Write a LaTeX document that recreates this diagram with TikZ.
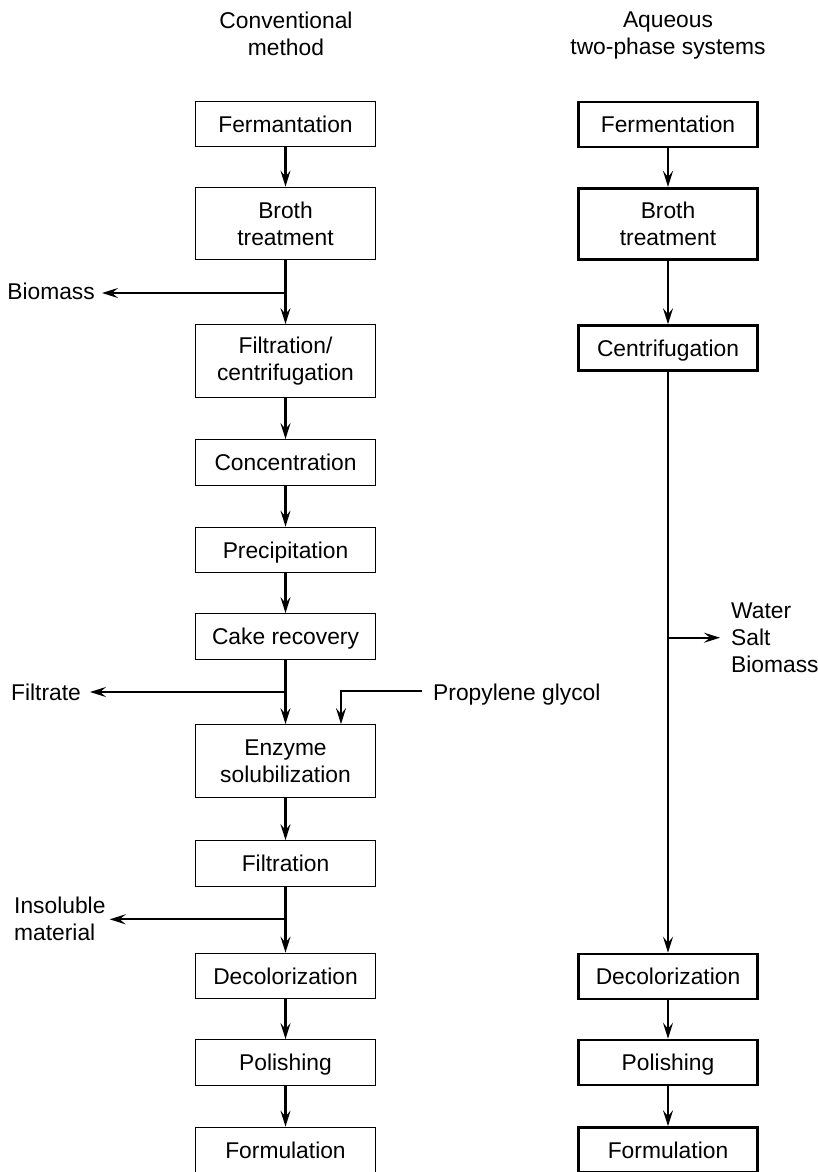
\documentclass[tikz,border=0pt]{standalone}
\usepackage{fontspec}
\setmainfont{Liberation Sans}
\usetikzlibrary{arrows.meta,calc}
\begin{document}
\begin{tikzpicture}[x=1pt,y=-1pt,
  every node/.style={font=\fontsize{22.8}{27}\selectfont},
  box/.style={draw,line width=1.3pt,minimum width=180.5pt,minimum height=45.5pt,inner sep=0pt,align=center},
  two/.style={minimum height=72.5pt},
  one/.style={text height=16.3pt,text depth=0pt},
  tbox/.style={box,line width=2.7pt,minimum width=179.5pt,minimum height=44.8pt},
  arr/.style={line width=2.2pt,-{Stealth[length=16pt,width=10pt,inset=6pt]}},
  ln/.style={line width=2.2pt},
  lbl/.style={inner ysep=0pt,text depth=0pt},
]
\useasboundingbox (0,0) rectangle (818,1172);

% titles
\node[anchor=north,inner sep=0pt,align=center] (T1) at (286,11.5) {Conventional\\method};
\node[anchor=north,inner sep=0pt,align=center] (T2) at (668,11.5) {Aqueous\\two-phase systems};

% left column
\node[box,one] (L1) at (285.5,124) {Fermantation};
\node[box,two] (L2) at (285.5,223.5) {Broth\\treatment};
\node[box,two] (L3) at (285.5,361) {Filtration/\\centrifugation};
\node[box,one] (L4) at (285.5,462.5) {Concentration};
\node[box,one] (L5) at (285.5,550) {Precipitation};
\node[box,one] (L6) at (285.5,636.5) {Cake recovery};
\node[box,two] (L7) at (285.5,761) {Enzyme\\solubilization};
\node[box,one] (L8) at (285.5,863.5) {Filtration};
\node[box,one] (L9) at (285.5,976) {Decolorization};
\node[box,one] (L10) at (285.5,1062.5) {Polishing};
\node[box,one] (L11) at (285.5,1150) {Formulation};

% right column
\node[tbox,one] (R1) at (668,124.5) {Fermentation};
\node[tbox,two,minimum height=71.5pt] (R2) at (668,224) {Broth\\treatment};
\node[tbox,one] (R3) at (668,348) {Centrifugation};
\node[tbox,one] (R4) at (668,976.5) {Decolorization};
\node[tbox,one] (R5) at (668,1062.5) {Polishing};
\node[tbox,one] (R6) at (668,1150) {Formulation};

% side labels
\node[lbl,text height=12pt,inner xsep=7pt,anchor=east] (bio) at (102,293) {Biomass};
\node[lbl,text height=16pt,inner xsep=9pt,anchor=east] (fil) at (90,692) {Filtrate};
\node[lbl,text height=18pt,inner xsep=11pt,anchor=west] (pg) at (422,691) {Propylene glycol};
\node[inner ysep=0pt,inner xsep=4pt,align=left,anchor=north west] (ins) at (10,896.7) {Insoluble\\material};
\node[inner ysep=0pt,inner xsep=11pt,align=left,anchor=north west] (wsb) at (720,602.7) {Water\\Salt\\Biomass};

% junctions
\coordinate (j1) at (285.5,293);
\coordinate (j2) at (285.5,692);
\coordinate (j4) at (285.5,919.3);
\coordinate (j3) at (668,637.7);
\coordinate (pgin) at (341,0 |- L7.north);

% left connectors
\draw[arr] (L1) -- (L2);
\draw[arr] (L2) -- (L3);
\draw[arr] (L3) -- (L4);
\draw[arr] (L4) -- (L5);
\draw[arr] (L5) -- (L6);
\draw[arr] (L6) -- (L7);
\draw[arr] (L7) -- (L8);
\draw[arr] (L8) -- (L9);
\draw[arr] (L9) -- (L10);
\draw[arr] (L10) -- (L11);
\draw[arr] (j1) -- (j1 -| bio.east);
\draw[arr] (j2) -- (j2 -| fil.east);
\draw[arr] (j4) -- (j4 -| ins.east);
\draw[arr] (pg.west) -| (pgin);

% right connectors
\draw[arr] (R1) -- (R2);
\draw[arr] (R2) -- (R3);
\draw[arr] (R3) -- (R4);
\draw[arr] (R4) -- (R5);
\draw[arr] (R5) -- (R6);
\draw[arr] (j3) -- (j3 -| wsb.west);
\end{tikzpicture}
\end{document}
